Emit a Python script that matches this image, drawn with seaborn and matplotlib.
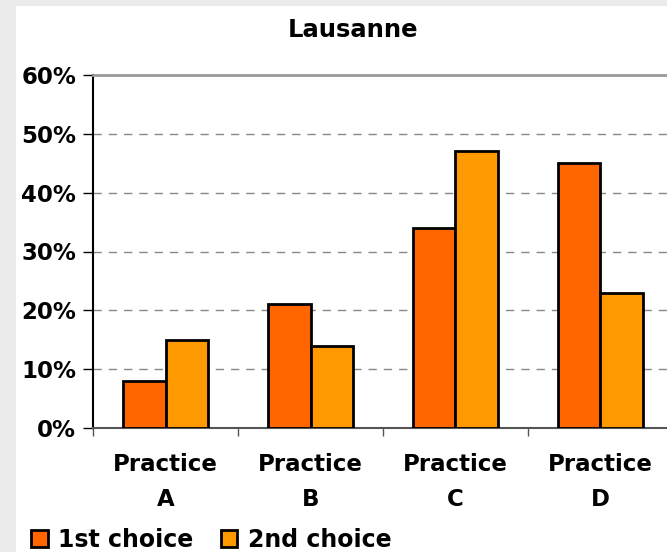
import pandas as pd
import matplotlib
matplotlib.use("Agg")
import matplotlib.pyplot as plt
from matplotlib.patches import Rectangle
from matplotlib.ticker import FixedLocator, PercentFormatter
import seaborn as sns

## Data
practices = ["Practice\nA", "Practice\nB", "Practice\nC", "Practice\nD"]
first_choice = [8, 21, 34, 45]
second_choice = [15, 14, 47, 23]
series_names = ["1st choice", "2nd choice"]
y_ticks = [0, 10, 20, 30, 40, 50, 60]

df = pd.DataFrame({
    "practice": practices * 2,
    "share": first_choice + second_choice,
    "choice": [series_names[0]] * 4 + [series_names[1]] * 4,
})

sns.set_style("white")
plt.rcParams["font.family"] = ["DejaVu Sans"]
plt.rcParams["font.weight"] = "bold"
plt.rcParams["text.color"] = "black"
plt.rcParams["xtick.color"] = "black"
plt.rcParams["ytick.color"] = "black"

fig = plt.figure(figsize=(6.67, 5.52), dpi=100, facecolor="#ebebeb")
# white panel behind the chart
fig.patches.append(Rectangle((16 / 667, 0), 1, 1 - 6 / 552, transform=fig.transFigure,
                             facecolor="white", edgecolor="none", zorder=-5))

ax = fig.add_axes([93 / 667, 1 - 428 / 552, 580 / 667, 353 / 552])
ax.set_facecolor("none")

sns.barplot(data=df, x="practice", y="share", hue="choice",
            palette=["#ff6600", "#ff9900"], width=0.59, edgecolor="black",
            linewidth=2, saturation=1, ax=ax, legend=True, zorder=3)

ax.set_ylim(0, 60)
ax.set_xlim(-0.5, 3.5)
ax.yaxis.set_major_locator(FixedLocator(y_ticks))
ax.yaxis.set_major_formatter(PercentFormatter(decimals=0))
for y in y_ticks[1:-1]:
    ax.axhline(y, color="#888888", lw=1.0, ls=(0, (6, 5)), zorder=1)

# category boundaries get the tick marks, labels sit in between
ax.set_xticks([-0.5, 0.5, 1.5, 2.5, 3.5])
ax.set_xticklabels([])
ax.set_xticks(range(len(practices)), minor=True)
ax.set_xticklabels(practices, minor=True, fontsize=16.5, fontweight="bold", linespacing=1.65)
ax.tick_params(axis="x", which="major", length=6, width=1, color="#555555", direction="out", bottom=True)
ax.tick_params(axis="x", which="minor", length=0, pad=18)
ax.tick_params(axis="y", length=7, width=1, color="black", direction="out", left=True, pad=5,
               labelsize=16.5)
for lab in ax.get_yticklabels():
    lab.set_fontweight("bold")

ax.spines["left"].set_color("black")
ax.spines["left"].set_linewidth(1.5)
ax.spines["bottom"].set_color("#555555")
ax.spines["bottom"].set_linewidth(1.5)
ax.spines["top"].set_color("#999999")
ax.spines["top"].set_linewidth(2)
ax.spines["right"].set_visible(False)
ax.set_xlabel("")
ax.set_ylabel("")

fig.text(353 / 667, 1 - 30 / 552, "Lausanne", ha="center", va="center",
         fontsize=17.5, fontweight="bold")

handles, labels = ax.get_legend_handles_labels()
ax.get_legend().remove()
fig.legend(handles, labels, loc="center left", bbox_to_anchor=(10 / 667, 1 - 540 / 552),
           ncol=2, frameon=False, handlelength=0.7, handleheight=0.7,
           handletextpad=0.45, columnspacing=1.15, prop={"weight": "bold", "size": 17})

fig.savefig("out.png", dpi=100, facecolor=fig.get_facecolor())
